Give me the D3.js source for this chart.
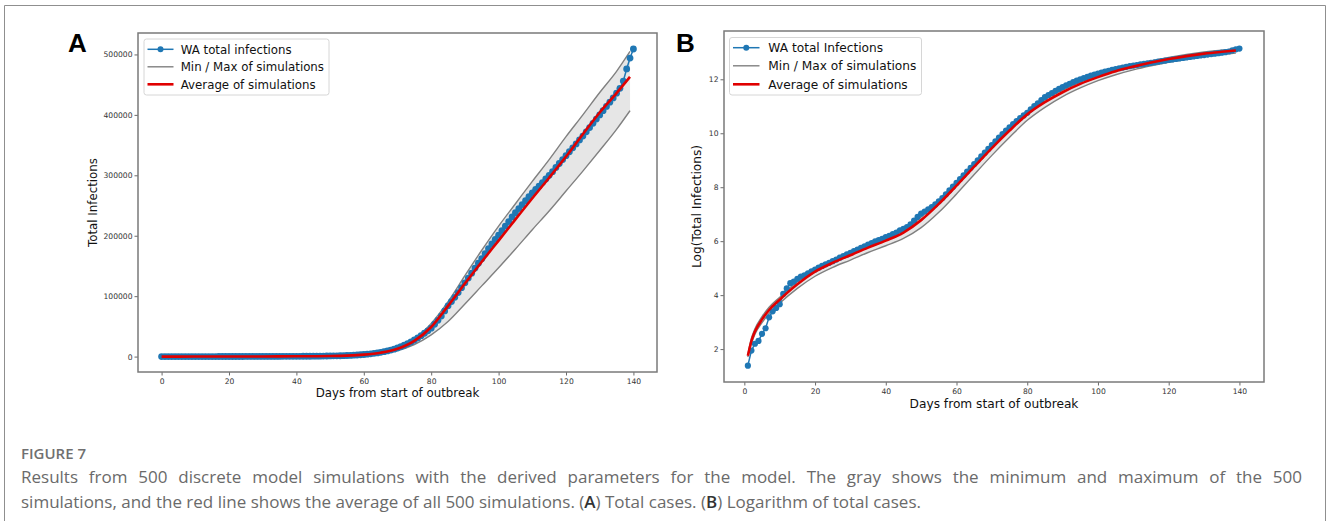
<!DOCTYPE html>
<html>
<head>
<meta charset="utf-8">
<script src="https://cdn.jsdelivr.net/npm/d3@7"></script>
<style>
  body { margin: 0; background: #fff; }
  svg text { font-family: "DejaVu Sans", sans-serif; }
</style>
</head>
<body>
<script>
const infections = [
  2, 4, 7, 9, 10, 13, 16, 24, 30, 34,
  39, 57, 70, 85, 90, 100, 108, 114, 122, 132,
  141, 151, 161, 171, 181, 192, 204, 219, 233, 247,
  262, 279, 296, 314, 334, 354, 376, 399, 420, 441,
  469, 493, 523, 556, 602, 639, 679, 750, 863, 992,
  1120, 1212, 1313, 1422, 1572, 1772, 1998, 2298, 2644, 3041,
  3498, 4024, 4628, 5324, 6124, 7044, 8103, 9320, 10720, 12332,
  14185, 16318, 18769, 21375, 24343, 27456, 30960, 34600, 38600, 42700,
  47100, 53500, 60000, 67000, 75500, 84000, 91000, 98000, 106000, 114000,
  122000, 130000, 138000, 146500, 154500, 162000, 170500, 178500, 186500, 194000,
  201000, 208500, 216000, 223500, 231000, 238000, 245000, 251500, 258000, 264500,
  271000, 276500, 282000, 288000, 294000, 300000, 306000, 313000, 319500, 326000,
  332500, 339000, 345500, 352000, 358500, 365000, 372000, 379000, 386000, 393000,
  400000, 407000, 414000, 421000, 428000, 436000, 444000, 456000, 476000, 494000,
  509000
];

// simulations, panel A (total infections)
const simDaysA = [0, 10, 20, 30, 40, 50, 55, 60, 65, 70, 75, 80, 85, 90, 95, 100, 105, 110, 115, 120, 125, 130, 135, 139];
const avgA = [0, 50, 130, 250, 450, 900, 1600, 3200, 6500, 13000, 26000, 49000, 84000, 121000, 157000, 192000, 227000, 262000, 296000, 331000, 368000, 404000, 436000, 463000];
const maxA = [0, 60, 150, 300, 550, 1100, 2000, 4000, 8000, 15000, 29000, 55000, 91000, 134000, 176000, 216000, 253000, 290000, 326000, 364000, 400000, 437000, 472000, 505000];
const minA = [0, 40, 100, 200, 350, 700, 1300, 2500, 5000, 10000, 20000, 36000, 58000, 87000, 117000, 147000, 178000, 210000, 241000, 274000, 307000, 341000, 376000, 407000];

// simulations, panel B (log of total infections)
const simDaysB = [1, 2, 3, 5, 7, 10, 15, 20, 25, 30, 35, 40, 45, 50, 55, 60, 65, 70, 75, 80, 85, 90, 95, 100, 105, 110, 115, 120, 125, 130, 135, 139];
const avgB = [1.75, 2.3, 2.65, 3.1, 3.45, 3.83, 4.4, 4.87, 5.2, 5.48, 5.76, 6.02, 6.32, 6.78, 7.38, 8.06, 8.76, 9.45, 10.1, 10.7, 11.15, 11.52, 11.83, 12.08, 12.3, 12.47, 12.62, 12.75, 12.86, 12.95, 13.02, 13.07];
const maxB = [1.8, 2.4, 2.75, 3.2, 3.55, 3.92, 4.5, 4.97, 5.3, 5.58, 5.86, 6.12, 6.42, 6.9, 7.52, 8.2, 8.9, 9.58, 10.22, 10.8, 11.25, 11.6, 11.9, 12.15, 12.36, 12.53, 12.68, 12.81, 12.92, 13.01, 13.08, 13.12];
const minB = [1.7, 2.2, 2.55, 2.98, 3.32, 3.7, 4.25, 4.7, 5.03, 5.3, 5.58, 5.83, 6.1, 6.5, 7.07, 7.75, 8.47, 9.18, 9.85, 10.48, 10.96, 11.36, 11.68, 11.95, 12.17, 12.35, 12.5, 12.63, 12.74, 12.84, 12.92, 12.97];

const xTicks = [0, 20, 40, 60, 80, 100, 120, 140];
const yTicksA = [0, 100000, 200000, 300000, 400000, 500000];
const yTicksB = [2, 4, 6, 8, 10, 12];

const legendA = ["WA total infections", "Min / Max of simulations", "Average of simulations"];
const legendB = ["WA total Infections", "Min / Max of simulations", "Average of simulations"];

const captionLines = [
  "Results from 500 discrete model simulations with the derived parameters for the model. The gray shows the minimum and maximum of the 500",
  "simulations, and the red line shows the average of all 500 simulations. (A) Total cases. (B) Logarithm of total cases."
];

const width = 1328, height = 521;
const blue = "#1f77b4", red = "#e00000", gray = "#808080";

const svg = d3.select('body').append('svg')
   .attr("width", width)
   .attr("height", height);

// figure card frame
svg.append('path')
   .attr('d', `M4.5,${height} V5.5 H1325.5 V${height}`)
   .attr('fill', 'none')
   .attr('stroke', '#8f8f8f')
   .attr('stroke-width', 1);

const dataA = infections.map((v, i) => ({x: i, y: v}));
const dataB = infections.map((v, i) => ({x: i, y: v})).filter(d => d.x >= 1)
   .map(d => ({x: d.x, y: Math.log(d.y)}));

function panel(opt) {
  const {box, xDomain, yDomain, yTicks, yFmt, data, simDays, avg, mn, mx, legend, letter, yLabel, fs, r} = opt;
  const g = svg.append('g');
  const x = d3.scaleLinear().domain(xDomain).range([box.x0, box.x1]);
  const y = d3.scaleLinear().domain(yDomain).range([box.y1, box.y0]);

  // band between min / max
  const band = simDays.map((d, i) => ({x: d, lo: mn[i], hi: mx[i]}));
  g.append('path').datum(band)
   .attr('fill', '#e6e6e6')
   .attr('d', d3.area().curve(d3.curveMonotoneX).x(d => x(d.x)).y0(d => y(d.lo)).y1(d => y(d.hi)));

  const simLine = d3.line().curve(d3.curveMonotoneX).x(d => x(d[0])).y(d => y(d[1]));
  [mn, mx].forEach(arr => {
    g.append('path').datum(simDays.map((d, i) => [d, arr[i]]))
     .attr('fill', 'none').attr('stroke', gray).attr('stroke-width', 1.4)
     .attr('d', simLine);
  });

  // observed data
  g.append('path').datum(data)
   .attr('fill', 'none').attr('stroke', blue).attr('stroke-width', 1.5)
   .attr('d', d3.line().x(d => x(d.x)).y(d => y(d.y)));
  g.selectAll('.pt').data(data).enter().append('circle')
   .attr('cx', d => x(d.x)).attr('cy', d => y(d.y))
   .attr('r', r).attr('fill', blue);

  // average
  g.append('path').datum(simDays.map((d, i) => [d, avg[i]]))
   .attr('fill', 'none').attr('stroke', red).attr('stroke-width', 2.6)
   .attr('d', simLine);

  // axes
  const xAxis = g.append('g').attr('transform', `translate(0,${box.y1})`)
   .call(d3.axisBottom(x).tickValues(xTicks).tickSize(3.5).tickSizeOuter(0));
  const yAxis = g.append('g').attr('transform', `translate(${box.x0},0)`)
   .call(d3.axisLeft(y).tickValues(yTicks).tickFormat(yFmt).tickSize(3.5).tickSizeOuter(0));
  [xAxis, yAxis].forEach(a => {
    a.select('.domain').remove();
    a.selectAll('line').attr('stroke', '#444').attr('stroke-width', 0.8);
    a.selectAll('text').attr('font-size', 7.6).attr('fill', '#333')
     .style('font-family', '"DejaVu Sans", sans-serif');
  });
  xAxis.selectAll('text').attr('dy', '0.95em').attr('y', 4.5);
  yAxis.selectAll('text').attr('x', -5.5);

  g.append('rect')
   .attr('x', box.x0).attr('y', box.y0)
   .attr('width', box.x1 - box.x0).attr('height', box.y1 - box.y0)
   .attr('fill', 'none').attr('stroke', '#7a7a7a').attr('stroke-width', 1.5);

  // axis labels
  g.append('text')
   .attr('x', (box.x0 + box.x1) / 2).attr('y', box.xLabelY)
   .attr('text-anchor', 'middle').attr('font-size', fs).attr('fill', '#111')
   .text("Days from start of outbreak");
  g.append('text')
   .attr('transform', `translate(${box.yLabelX},${(box.y0 + box.y1) / 2}) rotate(-90)`)
   .attr('text-anchor', 'middle').attr('font-size', fs).attr('fill', '#111')
   .text(yLabel);

  // panel letter
  g.append('text')
   .attr('x', letter.x).attr('y', letter.y)
   .attr('font-size', 26).attr('font-weight', 'bold')
   .style('font-family', '"Liberation Sans", Arial, sans-serif')
   .text(letter.t);

  // legend
  const lg = g.append('g');
  lg.append('rect')
   .attr('x', box.lg.x).attr('y', box.lg.y)
   .attr('width', box.lg.w).attr('height', box.lg.h).attr('rx', 2.5)
   .attr('fill', '#fff').attr('stroke', '#d6d6d6').attr('stroke-width', 1);
  const colors = [blue, gray, red];
  const widths = [1.5, 1.4, 2.6];
  legend.forEach((t, i) => {
    const ry = box.lg.rows[i];
    lg.append('line')
     .attr('x1', box.lg.hx0).attr('x2', box.lg.hx1).attr('y1', ry).attr('y2', ry)
     .attr('stroke', colors[i]).attr('stroke-width', widths[i]);
    if (i === 0) {
      lg.append('circle').attr('cx', (box.lg.hx0 + box.lg.hx1) / 2).attr('cy', ry)
       .attr('r', 3).attr('fill', blue);
    }
    lg.append('text')
     .attr('x', box.lg.tx).attr('y', ry).attr('dy', '0.36em')
     .attr('font-size', fs).attr('fill', '#111')
     .text(t);
  });
}

panel({
  box: {x0: 138, x1: 657, y0: 33, y1: 372, xLabelY: 397, yLabelX: 97,
        lg: {x: 144, y: 39, w: 185, h: 56, rows: [49.3, 66.8, 84.3], hx0: 147.5, hx1: 173.5, tx: 180.7}},
  xDomain: [-7, 147], yDomain: [-25500, 535500],
  yTicks: yTicksA, yFmt: d3.format('d'),
  data: dataA, simDays: simDaysA, avg: avgA, mn: minA, mx: maxA, r: 3.4,
  legend: legendA, letter: {t: "A", x: 68, y: 52}, yLabel: "Total Infections", fs: 11.8
});

panel({
  box: {x0: 724, x1: 1264, y0: 31, y1: 382, xLabelY: 408, yLabelX: 701,
        lg: {x: 729.5, y: 37.5, w: 192, h: 57.5, rows: [47.7, 65.8, 84.3], hx0: 733, hx1: 759.5, tx: 768.3}},
  xDomain: [-5.75, 146.95], yDomain: [0.78, 13.79],
  yTicks: yTicksB, yFmt: d3.format('d'),
  data: dataB, simDays: simDaysB, avg: avgB, mn: minB, mx: maxB, r: 3.1,
  legend: legendB, letter: {t: "B", x: 676, y: 52}, yLabel: "Log(Total Infections)", fs: 12.2
});

// caption
const cap = svg.append('g').style('font-family', '"Open Sans", sans-serif');
cap.append('text')
   .attr('x', 21).attr('y', 459)
   .attr('font-size', 15).attr('font-weight', 600).attr('fill', '#707070')
   .style('font-family', '"Open Sans", sans-serif')
   .text("FIGURE 7");

const lineY = [483, 508];
captionLines.forEach((t, i) => {
  const txt = cap.append('text')
     .attr('x', 21).attr('y', lineY[i])
     .attr('font-size', 17).attr('fill', '#6a6a6a')
     .style('font-family', '"Open Sans", sans-serif');
  // (A) and (B) get darker letters
  const parts = t.split(/(\([AB]\))/);
  parts.forEach(p => {
    const m = p.match(/^\(([AB])\)$/);
    if (m) {
      txt.append('tspan').text("(");
      txt.append('tspan').attr('fill', '#333').attr('font-weight', 600).text(m[1]);
      txt.append('tspan').text(")");
    } else {
      txt.append('tspan').text(p);
    }
  });
  if (i === 0) {
    // justify the first line
    const target = 1302 - 21;
    const natural = txt.node().getComputedTextLength();
    const spaces = (t.match(/ /g) || []).length;
    txt.attr('word-spacing', (target - natural) / spaces);
  }
});
</script>
</body>
</html>
